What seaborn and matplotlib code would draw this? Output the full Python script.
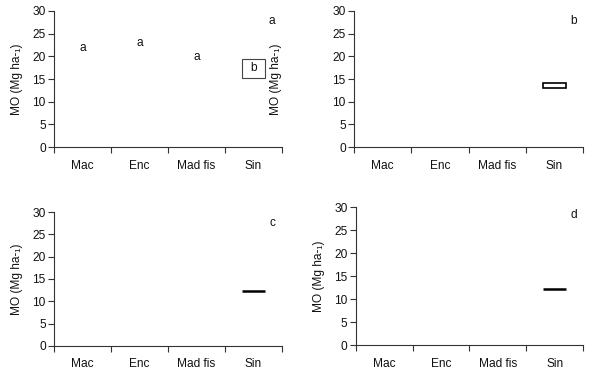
import pandas as pd
import matplotlib
matplotlib.use('Agg')
import matplotlib.pyplot as plt
import seaborn as sns

# Datos
tratamientos = ['Mac', 'Enc', 'Mad fis', 'Sin']
paneles = ['a', 'b', 'c', 'd']

# Valores de MO para "Sin" en cada panel (cuartiles aproximados)
sin_a = [15.2, 15.2, 19.5, 19.5]
sin_b = [13.1, 13.1, 14.15, 14.15]
sin_c = [12.27, 12.27, 12.27, 12.27]
sin_d = [12.3, 12.3, 12.3, 12.3]

# Letras de significancia del panel a
letras_a = ['a', 'a', 'a', 'b']
letras_a_y = [21.8, 22.9, 19.8, 17.35]

# Altura de la letra del panel (esquina superior derecha)
etiqueta_y = [27.8, 27.8, 27.5, 28.2]

ylabel = 'MO (Mg ha-\u2081)'

sns.set_theme(style='white')
plt.rcParams['font.family'] = ['Liberation Sans', 'DejaVu Sans']

fig = plt.figure(figsize=(6, 3.78), dpi=100)

posiciones = [
    [0.09, 0.611, 0.38, 0.36],
    [0.59, 0.611, 0.382, 0.36],
    [0.09, 0.085, 0.38, 0.354],
    [0.593, 0.087, 0.379, 0.365],
]
pad_label = [-0.136, -0.314, -0.136, -0.135]
grosor = [0.8, 1.2, 1.8, 1.8]
color_borde = ['#444444', 'black', 'black', 'black']

datos = [sin_a, sin_b, sin_c, sin_d]

for k, panel in enumerate(paneles):
    ax = fig.add_axes(posiciones[k])
    df = pd.DataFrame({'trat': ['Sin'] * len(datos[k]), 'MO': datos[k]})
    sns.boxplot(data=df, x='trat', y='MO', order=tratamientos, ax=ax,
                width=0.4, color='white', linecolor=color_borde[k], linewidth=grosor[k],
                showcaps=False, medianprops={'visible': False})

    ax.set_xlim(-0.5, 3.5)
    ax.set_ylim(0, 30)
    ax.set_yticks(range(0, 31, 5))
    ax.set_xticks(range(4))
    ax.set_xticklabels(tratamientos)
    ax.set_xticks([-0.5, 0.5, 1.5, 2.5, 3.5], minor=True)
    ax.tick_params(axis='x', which='major', length=0, pad=9, labelsize=8.6, colors='#111111')
    ax.tick_params(axis='x', which='minor', length=4, width=0.8, direction='out', bottom=True, color='#333333')
    ax.tick_params(axis='y', length=4, width=0.8, direction='out', left=True, pad=2, labelsize=8.6, colors='#111111')
    ax.tick_params(axis='y', color='#333333')
    sns.despine(ax=ax)
    for s in ['left', 'bottom']:
        ax.spines[s].set_color('#333333')
        ax.spines[s].set_linewidth(0.8)

    ax.set_xlabel('')
    ax.set_ylabel(ylabel, fontsize=8.6, color='#111111')
    ax.yaxis.set_label_coords(pad_label[k], 0.5)

    ax.text(3.33, etiqueta_y[k], panel, fontsize=8.6, ha='center', va='center', color='#111111')

    if panel == 'a':
        for i, letra in enumerate(letras_a):
            ax.text(i, letras_a_y[i], letra, fontsize=8.6, ha='center', va='center', color='#111111')

fig.savefig('out.png', dpi=100)
